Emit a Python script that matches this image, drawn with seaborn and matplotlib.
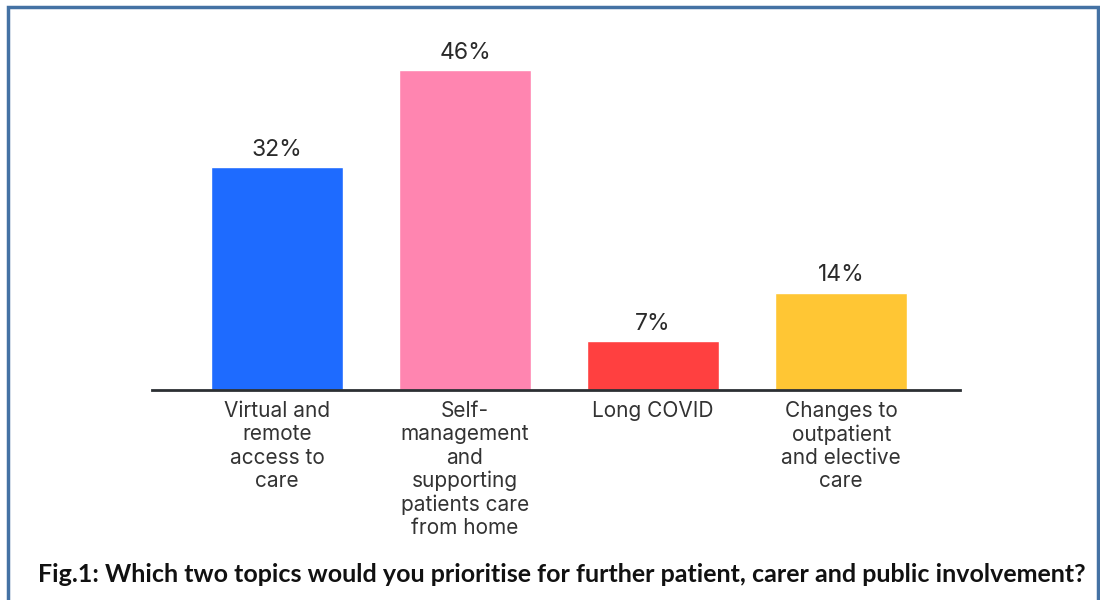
import matplotlib
matplotlib.use("Agg")
import matplotlib.pyplot as plt
import seaborn as sns
import pandas as pd
from matplotlib.patches import Rectangle

categories = ["Virtual and\nremote\naccess to\ncare",
              "Self-\nmanagement\nand\nsupporting\npatients care\nfrom home",
              "Long COVID",
              "Changes to\noutpatient\nand elective\ncare"]
values = [32, 46, 7, 14]
colors = ["#1E6BFF", "#FF85B0", "#FF4040", "#FFC634"]
caption = "Fig.1: Which two topics would you prioritise for further patient, carer and public involvement?"

sns.set_theme(style="white")
plt.rcParams['font.family'] = ['Inter', 'DejaVu Sans']

df = pd.DataFrame({"cat": categories, "val": values})

fig = plt.figure(figsize=(11, 6), dpi=100)
ax = fig.add_axes([0.138, 0.35, 0.735, 0.58])
sns.barplot(data=df, x="cat", y="val", hue="cat", palette=colors, width=0.70,
            legend=False, ax=ax, saturation=1)
ax.set_xlim(-0.665, 3.633)
ax.set_ylim(0, 50)
for i, v in enumerate(values):
    ax.text(i, v + 0.9, f"{v}%", ha="center", va="bottom", fontsize=16.5, color="#2a2a2a")
for s in ["top", "right", "left"]:
    ax.spines[s].set_visible(False)
ax.spines["bottom"].set_color("#2b2f33")
ax.spines["bottom"].set_linewidth(2)
ax.set_yticks([])
ax.set_xlabel("")
ax.set_ylabel("")
ax.tick_params(axis="x", length=0, pad=8, labelsize=15, labelcolor="#333333")
for lbl in ax.get_xticklabels():
    lbl.set_linespacing(1.2)

fig.text(0.511, 0.042, caption, ha="center", va="center", fontsize=18,
         fontweight="bold", family=["Lato", "DejaVu Sans"], color="#111111")

border = Rectangle((0.0075, -0.05), 0.9905, 1.038, transform=fig.transFigure,
                   fill=False, edgecolor="#4472A4", linewidth=2.5)
fig.patches.append(border)

fig.savefig("out.png", dpi=100)
